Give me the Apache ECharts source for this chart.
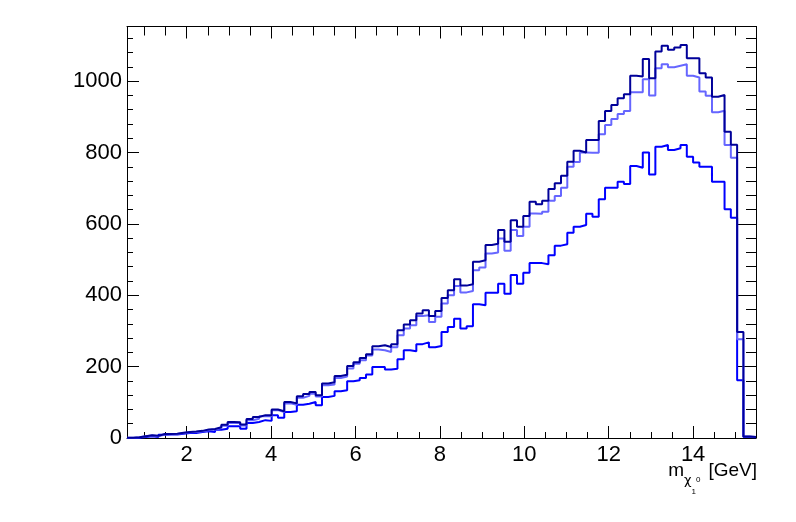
<!DOCTYPE html>
<html>
<head>
<meta charset="utf-8">
<script src="https://cdn.jsdelivr.net/npm/echarts@6/dist/echarts.min.js"></script>
<style>
  html, body { margin: 0; padding: 0; background: #fff; }
  #chart { width: 796px; height: 522px; }
</style>
</head>
<body>
<div id="chart"></div>
<script>
// histogram range (GeV) and bin count
const xMin = 0.585
const xMax = 15.49
const nBins = 100
const yMax = 1153

// bin contents (100 bins each)
const darkCounts = [
  1, 2, 5, 8, 6, 11, 11, 12, 15, 17,
  18, 20, 24, 25, 30, 37, 45, 44, 38, 53,
  59, 64, 64, 80, 75, 101, 97, 117, 123, 129,
  120, 153, 156, 174, 177, 202, 212, 224, 235, 257,
  260, 255, 263, 302, 318, 330, 349, 358, 342, 356,
  392, 414, 445, 427, 431, 494, 498, 541, 544, 583,
  550, 610, 592, 622, 662, 655, 665, 698, 714, 735,
  774, 805, 800, 835, 835, 888, 916, 933, 952, 963,
  1015, 1013, 1062, 1008, 1083, 1099, 1088, 1094, 1101, 1064,
  1064, 1022, 1010, 956, 961, 858, 822, 297, 4, 3
]
const lightCounts = [
  1, 2, 5, 7, 5, 10, 11, 11, 14, 16,
  17, 19, 22, 24, 28, 34, 42, 42, 35, 50,
  54, 61, 61, 78, 73, 97, 93, 113, 118, 124,
  116, 148, 150, 168, 172, 195, 208, 218, 231, 248,
  246, 241, 254, 288, 307, 316, 342, 344, 325, 340,
  377, 400, 426, 408, 412, 470, 478, 517, 520, 559,
  525, 583, 566, 592, 629, 628, 634, 665, 678, 701,
  760, 773, 800, 799, 799, 851, 877, 894, 908, 916,
  969, 969, 1005, 960, 1036, 1047, 1039, 1043, 1047, 1015,
  1010, 971, 959, 913, 917, 821, 785, 277, 4, 3
]
const blueCounts = [
  0, 1, 3, 5, 3, 9, 10, 10, 12, 14,
  14, 17, 19, 17, 23, 26, 33, 33, 26, 42,
  45, 50, 48, 64, 57, 73, 75, 93, 96, 101,
  92, 115, 118, 131, 134, 159, 162, 168, 178, 199,
  199, 192, 194, 221, 246, 243, 263, 268, 254, 258,
  297, 311, 334, 307, 313, 375, 372, 407, 407, 432,
  404, 457, 432, 463, 490, 490, 487, 512, 539, 543,
  575, 592, 597, 628, 620, 669, 701, 701, 718, 712,
  762, 757, 800, 738, 816, 821, 807, 812, 821, 788,
  772, 760, 760, 718, 718, 641, 617, 162, 3, 2
]

const FONT = 'Liberation Sans, Arial, sans-serif'
const BLACK = '#000'

// left edge of bin i
const binEdge = i => xMin + (xMax - xMin) * i / nBins

// step outline of a histogram: one point per bin + closing point
const toSteps = counts => {
  const pts = counts.map((v, i) => [binEdge(i), v])
  pts.push([binEdge(counts.length), counts[counts.length - 1]])
  return pts
}

// tick-only axis (used for minor ticks and the mirrored sides)
const tickAxis = (extra, tickLen, withLine) => Object.assign({
  type: 'value',
  axisLine: { show: withLine, onZero: false, lineStyle: { color: BLACK, width: 1 } },
  axisTick: { show: true, inside: true, length: tickLen, lineStyle: { color: BLACK, width: 1 } },
  axisLabel: { show: false },
  splitLine: { show: false }
}, extra)

const chart = echarts.init(document.getElementById('chart'))

const option = {
  animation: false,
  backgroundColor: '#fff',
  grid: { left: 127, right: 40, top: 26.5, bottom: 84, containLabel: false, outerBoundsMode: 'none' },
  xAxis: [
    {
      type: 'value',
      position: 'bottom',
      min: xMin,
      max: xMax,
      splitNumber: 7,
      minInterval: 2,
      maxInterval: 2,
      axisLine: { show: true, onZero: false, lineStyle: { color: BLACK, width: 1 } },
      axisTick: { show: true, inside: true, length: 12, lineStyle: { color: BLACK, width: 1 } },
      axisLabel: {
        color: BLACK, fontSize: 22, fontFamily: FONT, margin: 6,
        showMinLabel: false, showMaxLabel: false
      },
      splitLine: { show: false }
    },
    tickAxis({ position: 'bottom', min: xMin, max: xMax, splitNumber: 30, minInterval: 0.5, maxInterval: 0.5 }, 6, false),
    tickAxis({ position: 'top', min: xMin, max: xMax, splitNumber: 7, minInterval: 2, maxInterval: 2 }, 12, true),
    tickAxis({ position: 'top', min: xMin, max: xMax, splitNumber: 30, minInterval: 0.5, maxInterval: 0.5 }, 9, false)
  ],
  yAxis: [
    {
      type: 'value',
      position: 'left',
      min: 0,
      max: yMax,
      interval: 200,
      axisLine: { show: true, onZero: false, lineStyle: { color: BLACK, width: 1 } },
      axisTick: { show: true, inside: true, length: 12, lineStyle: { color: BLACK, width: 1 } },
      axisLabel: {
        color: BLACK, fontSize: 22, fontFamily: FONT, margin: 5, showMaxLabel: false,
        formatter: v => String(v)
      },
      splitLine: { show: false }
    },
    tickAxis({ position: 'left', min: 0, max: yMax, interval: 40 }, 6, false),
    tickAxis({ position: 'right', min: 0, max: yMax, interval: 200 }, 19, true),
    tickAxis({ position: 'right', min: 0, max: yMax, interval: 40 }, 10, false)
  ],
  // x axis title, right-aligned under the frame
  graphic: [
    {
      type: 'text',
      right: 39,
      top: 461,
      silent: true,
      style: {
        text: '{m|m}{chi|χ}{sub|1}{sup|0}{gev|[GeV]}',
        fill: BLACK,
        rich: {
          m: { fontSize: 19, fontFamily: FONT, fill: BLACK, lineHeight: 22, verticalAlign: 'top' },
          chi: { fontSize: 13, fontFamily: 'DejaVu Sans', fill: BLACK, lineHeight: 13, verticalAlign: 'top', padding: [13, 0, 0, 0] },
          sub: { fontSize: 8, fontFamily: FONT, fill: BLACK, lineHeight: 8, verticalAlign: 'top', padding: [27, 0, 0, 0] },
          sup: { fontSize: 8, fontFamily: FONT, fill: BLACK, lineHeight: 8, verticalAlign: 'top', padding: [15, 0, 0, 0] },
          gev: { fontSize: 19, fontFamily: FONT, fill: BLACK, lineHeight: 22, verticalAlign: 'top', padding: [0, 0, 0, 8] }
        }
      }
    }
  ],
  series: [
    {
      name: 'blue',
      type: 'line',
      step: 'end',
      data: toSteps(blueCounts),
      symbol: 'none',
      lineStyle: { color: '#0000ff', width: 2 },
      z: 2
    },
    {
      name: 'light',
      type: 'line',
      step: 'end',
      data: toSteps(lightCounts),
      symbol: 'none',
      lineStyle: { color: '#6666ff', width: 2 },
      z: 3
    },
    {
      name: 'dark',
      type: 'line',
      step: 'end',
      data: toSteps(darkCounts),
      symbol: 'none',
      lineStyle: { color: '#000099', width: 2 },
      z: 4
    }
  ]
}

chart.setOption(option)
</script>
</body>
</html>
